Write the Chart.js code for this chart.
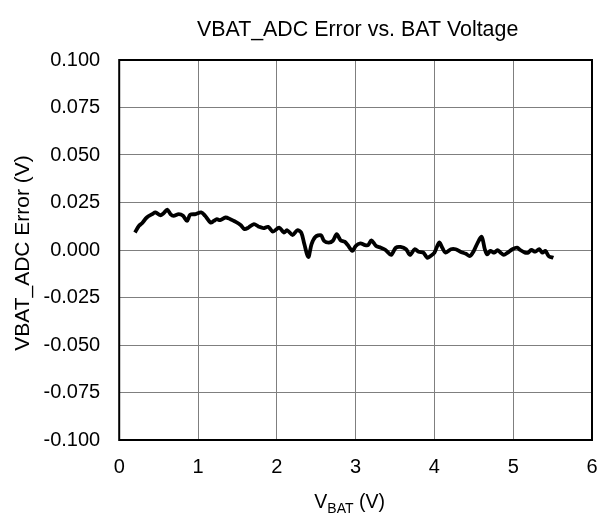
<!DOCTYPE html>
<html>
<head>
<meta charset="utf-8">
<script src="https://cdn.jsdelivr.net/npm/chart.js@4/dist/chart.umd.min.js"></script>
<style>
  html,body{margin:0;padding:0;background:#fff}
  #wrap{width:613px;height:519px}
</style>
</head>
<body>
<div id="wrap"><canvas id="c" width="613" height="519"></canvas></div>
<script>
// VBAT_ADC error vs battery voltage
const vbat = [0.20,0.25,0.29,0.35,0.42,0.46,0.52,0.56,0.61,0.65,0.69,0.755,0.81,0.86,0.90,0.97,1.04,1.09,1.16,1.20,1.24,1.28,1.35,1.41,1.47,1.54,1.59,1.64,1.71,1.77,1.83,1.89,1.95,2.03,2.09,2.13,2.20,2.26,2.31,2.35,2.40,2.44,2.49,2.56,2.60,2.66,2.71,2.76,2.81,2.86,2.90,2.96,3.00,3.06,3.12,3.16,3.20,3.26,3.32,3.38,3.45,3.51,3.57,3.64,3.69,3.75,3.80,3.86,3.91,3.95,4.00,4.06,4.10,4.14,4.21,4.27,4.33,4.40,4.45,4.50,4.55,4.60,4.64,4.67,4.71,4.76,4.80,4.84,4.88,4.93,4.99,5.05,5.09,5.15,5.19,5.23,5.28,5.33,5.37,5.41,5.45,5.51]
const adcError = [0.0092,0.0127,0.0141,0.0171,0.0189,0.0198,0.0183,0.0192,0.0212,0.0189,0.0180,0.0189,0.0180,0.0153,0.0185,0.0189,0.0198,0.0180,0.0144,0.0153,0.0162,0.0157,0.0171,0.0162,0.0150,0.0132,0.0110,0.0118,0.0136,0.0123,0.0115,0.0122,0.0097,0.0118,0.0092,0.0104,0.0079,0.0104,0.0092,0.0030,-0.0037,0.0030,0.0069,0.0078,0.0048,0.0039,0.0048,0.0083,0.0051,0.0044,0.0026,-0.0005,0.0021,0.0035,0.0026,0.0026,0.0051,0.0021,0.0012,0.0000,-0.0026,0.0012,0.0016,0.0004,-0.0026,0.0004,-0.0009,-0.0014,-0.0041,-0.0032,-0.0014,0.0039,0.0012,-0.0014,0.0004,0.0004,-0.0009,-0.0020,-0.0032,-0.0005,0.0039,0.0069,0.0004,-0.0023,-0.0005,-0.0014,-0.0001,-0.0014,-0.0026,-0.0014,0.0004,0.0012,0.0000,-0.0014,-0.0014,0.0000,-0.0009,0.0004,-0.0014,-0.0005,-0.0032,-0.0041]
const xTicks = [0,1,2,3,4,5,6]
const yMin = -0.1, yMax = 0.1, yStep = 0.025
const titleText = 'VBAT_ADC Error vs. BAT Voltage'
const yTitleText = 'VBAT_ADC Error (V)'

const FONT = 'Arial, "Liberation Sans", sans-serif'

// frame, chart title, rotated y title and subscripted x title
const framePlugin = {
  id: 'frame',
  afterDraw(chart){
    const {ctx, chartArea: a} = chart
    const midX = (a.left + a.right) / 2
    const midY = (a.top + a.bottom) / 2
    ctx.save()
    ctx.strokeStyle = '#000'
    ctx.lineWidth = 2
    ctx.strokeRect(a.left, a.top, a.right - a.left, a.bottom - a.top)
    ctx.fillStyle = '#000'
    ctx.textBaseline = 'alphabetic'

    // title
    ctx.textAlign = 'center'
    ctx.font = '21.4px ' + FONT
    ctx.fillText(titleText, midX + 2, 36)

    // y title
    ctx.save()
    ctx.translate(29, midY + 3)
    ctx.rotate(-Math.PI / 2)
    ctx.font = '21px ' + FONT
    ctx.fillText(yTitleText, 0, 0)
    ctx.restore()

    // x title: V_BAT (V)
    const y = 508
    ctx.font = '19.5px ' + FONT
    const w1 = ctx.measureText('V').width
    const w3 = ctx.measureText(' (V)').width
    ctx.font = '14px ' + FONT
    const w2 = ctx.measureText('BAT').width
    let x = midX - 6 - (w1 + w2 + w3) / 2
    ctx.textAlign = 'left'
    ctx.font = '19.5px ' + FONT
    ctx.fillText('V', x, y); x += w1
    ctx.font = '14px ' + FONT
    ctx.fillText('BAT', x, y + 5); x += w2
    ctx.font = '19.5px ' + FONT
    ctx.fillText(' (V)', x, y)
    ctx.restore()
  }
}

new Chart(document.getElementById('c').getContext('2d'), {
  type: 'line',
  data: {
    datasets: [{
      data: vbat.map((v,i)=> ({x: v, y: adcError[i]})),
      borderColor: '#000',
      borderWidth: 3.8,
      pointRadius: 0,
      tension: 0.3,
      fill: false
    }]
  },
  options: {
    responsive: false,
    animation: false,
    layout: { padding: {left: 24.5, right: 21, top: 60, bottom: 25} },
    plugins: {
      legend: {display: false},
      tooltip: {enabled: false},
      title: {display: false}
    },
    scales: {
      x: {
        type: 'linear',
        min: 0, max: 6,
        afterBuildTicks: s => { s.ticks = xTicks.map(v => ({value: v})) },
        grid: {color: '#7f7f7f', lineWidth: 1, drawTicks: false},
        border: {display: false},
        ticks: {color: '#000', font: {family: FONT, size: 20}, padding: 15}
      },
      y: {
        type: 'linear',
        min: yMin, max: yMax,
        ticks: {
          stepSize: yStep,
          color: '#000',
          font: {family: FONT, size: 20},
          padding: 19,
          callback: v => v.toFixed(3)
        },
        grid: {color: '#7f7f7f', lineWidth: 1, drawTicks: false},
        border: {display: false},
        title: {display: false}
      }
    }
  },
  plugins: [framePlugin]
})
</script>
</body>
</html>
